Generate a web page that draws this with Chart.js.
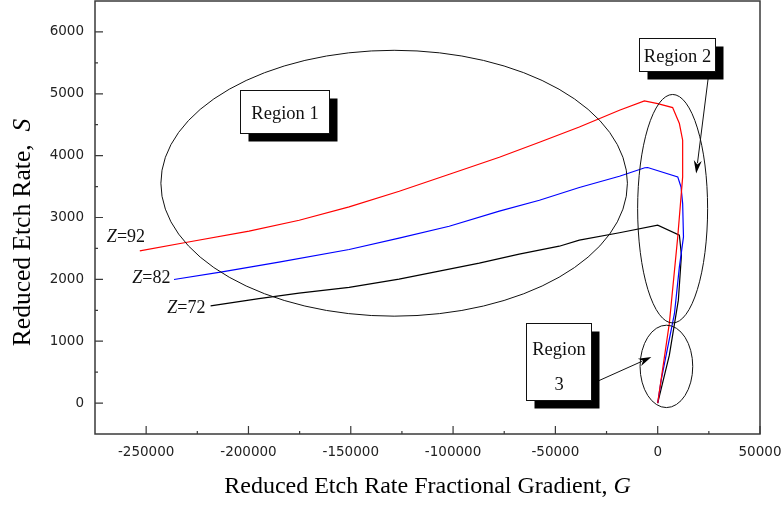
<!DOCTYPE html>
<html>
<head>
<meta charset="utf-8">
<script src="https://cdn.jsdelivr.net/npm/chart.js@4/dist/chart.umd.min.js"></script>
<style>
  html, body { margin: 0; padding: 0; background: #fff; }
  #wrap { width: 783px; height: 506px; position: relative; }
</style>
</head>
<body>
<div id="wrap"><canvas id="c" width="783" height="506"></canvas></div>
<script>
// Tick labels
const xTickValues = [-250000, -200000, -150000, -100000, -50000, 0, 50000];
const yTickValues = [0, 1000, 2000, 3000, 4000, 5000, 6000];

// Z = 92 (red)
const gZ92 = [-253100, -230700, -199700, -175200, -150800, -126300, -101800, -77400, -57800, -38300, -18700, -6500, 0, 7300, 10600, 12200, 12200, 11400, 9800, 5700, 0];
const sZ92 = [2460, 2596, 2779, 2956, 3171, 3425, 3699, 3974, 4216, 4464, 4733, 4884, 4842, 4777, 4519, 4249, 3656, 3333, 2687, 1292, 0];

// Z = 82 (blue)
const gZ82 = [-236400, -212900, -185100, -150800, -126400, -101900, -77400, -57800, -38300, -18700, -6300, -4900, 9800, 11400, 12200, 12600, 10600, 8200, 1700, 0];
const sZ82 = [1998, 2121, 2278, 2483, 2666, 2859, 3102, 3279, 3485, 3667, 3804, 3808, 3656, 3494, 3226, 2687, 2202, 1449, 372, 0];

// Z = 72 (black)
const gZ72 = [-218500, -194900, -175300, -150800, -126400, -106800, -87200, -67700, -48100, -38300, -18700, 0, 10600, 11600, 10100, 5700, 0];
const sZ72 = [1572, 1688, 1777, 1869, 2003, 2132, 2262, 2407, 2536, 2633, 2754, 2876, 2714, 2391, 1664, 775, 0];

const seriesNames = ['Z=92', 'Z=82', 'Z=72'];

// Region outlines (centre and half-axes in G / S units)
const regionEllipses = [
  { g: -128800, s: 3554, rg: 114000, rs: 2149 },
  { g: 7300,    s: 3142, rg: 17100,  rs: 1847 },
  { g: 4260,    s: 593,  rg: 12870,  rs: 666 }
];

// Callout boxes: centre in G / S units, box size in px, text lines with baseline offsets from the box top
const regionBoxes = [
  { g: -182400, s: 4711, w: 89, h: 43, lines: [['Region 1', 28]] },
  { g: 9600,    s: 5638, w: 76, h: 33, lines: [['Region 2', 23]] },
  { g: -48500,  s: 674,  w: 65, h: 77, lines: [['Region', 31], ['3', 66]] }
];

// Arrows from callouts to regions (tail -> head, G / S units)
const regionArrows = [
  { g0: 26000, s0: 5600, g1: 18800, s1: 3711 },
  { g0: -30400, s0: 338, g1: -3100, s1: 743 }
];

// Curve labels: left/baseline anchor in G / S units
const curveLabels = [
  { g: -269200, s: 2606 },
  { g: -256800, s: 1943 },
  { g: -239700, s: 1459 }
];

const FRAME = '#3a3a3a';
const SERIF = '"Liberation Serif", "Times New Roman", serif';

function toPoints(gs, ss) { return gs.map((g, i) => ({ x: g, y: ss[i] })); }

function midpoints(vals) {
  const out = [];
  for (let i = 0; i < vals.length - 1; i++) out.push((vals[i] + vals[i + 1]) / 2);
  return out;
}

// Draw a string made of [text, italic] runs starting at x
function drawRuns(ctx, runs, x, y, size) {
  let cx = x;
  runs.forEach(([t, it]) => {
    ctx.font = (it ? 'italic ' : '') + size + 'px ' + SERIF;
    ctx.fillText(t, cx, y);
    cx += ctx.measureText(t).width;
  });
}
function runsWidth(ctx, runs, size) {
  let w = 0;
  runs.forEach(([t, it]) => {
    ctx.font = (it ? 'italic ' : '') + size + 'px ' + SERIF;
    w += ctx.measureText(t).width;
  });
  return w;
}

const decorations = {
  id: 'decorations',
  afterDatasetsDraw(chart) {
    const { ctx, chartArea: a, scales: { x, y } } = chart;
    ctx.save();

    // frame
    ctx.strokeStyle = FRAME;
    ctx.lineWidth = 1.5;
    ctx.strokeRect(a.left, a.top, a.right - a.left, a.bottom - a.top);

    // inward tick marks on the left and bottom axes
    ctx.beginPath();
    xTickValues.forEach(v => { const p = x.getPixelForValue(v); ctx.moveTo(p, a.bottom); ctx.lineTo(p, a.bottom - 8); });
    midpoints(xTickValues).forEach(v => { const p = x.getPixelForValue(v); ctx.moveTo(p, a.bottom); ctx.lineTo(p, a.bottom - 3); });
    yTickValues.forEach(v => { const p = y.getPixelForValue(v); ctx.moveTo(a.left, p); ctx.lineTo(a.left + 8, p); });
    midpoints(yTickValues).forEach(v => { const p = y.getPixelForValue(v); ctx.moveTo(a.left, p); ctx.lineTo(a.left + 3, p); });
    ctx.lineWidth = 1.2;
    ctx.stroke();

    // region ellipses
    ctx.strokeStyle = '#111';
    ctx.lineWidth = 1;
    regionEllipses.forEach(e => {
      const cx = x.getPixelForValue(e.g), cy = y.getPixelForValue(e.s);
      const rx = Math.abs(x.getPixelForValue(e.g + e.rg) - cx);
      const ry = Math.abs(y.getPixelForValue(e.s + e.rs) - cy);
      ctx.beginPath();
      ctx.ellipse(cx, cy, rx, ry, 0, 0, Math.PI * 2);
      ctx.stroke();
    });

    // arrows
    regionArrows.forEach(r => {
      const x0 = x.getPixelForValue(r.g0), y0 = y.getPixelForValue(r.s0);
      const x1 = x.getPixelForValue(r.g1), y1 = y.getPixelForValue(r.s1);
      const ang = Math.atan2(y1 - y0, x1 - x0);
      const L = 13, W = 4;
      ctx.beginPath();
      ctx.moveTo(x0, y0);
      ctx.lineTo(x1 - Math.cos(ang) * L * 0.8, y1 - Math.sin(ang) * L * 0.8);
      ctx.strokeStyle = '#111';
      ctx.lineWidth = 1;
      ctx.stroke();
      ctx.beginPath();
      ctx.moveTo(x1, y1);
      ctx.lineTo(x1 - Math.cos(ang) * L - Math.sin(ang) * W, y1 - Math.sin(ang) * L + Math.cos(ang) * W);
      ctx.lineTo(x1 - Math.cos(ang) * L * 0.7, y1 - Math.sin(ang) * L * 0.7);
      ctx.lineTo(x1 - Math.cos(ang) * L + Math.sin(ang) * W, y1 - Math.sin(ang) * L - Math.cos(ang) * W);
      ctx.closePath();
      ctx.fillStyle = '#000';
      ctx.fill();
    });

    // callout boxes with drop shadow
    regionBoxes.forEach(b => {
      const cx = x.getPixelForValue(b.g), cy = y.getPixelForValue(b.s);
      const left = Math.round(cx - b.w / 2) + 0.5, top = Math.round(cy - b.h / 2) + 0.5;
      ctx.fillStyle = '#000';
      ctx.fillRect(left + 8, top + 8, b.w, b.h);
      ctx.fillStyle = '#fff';
      ctx.fillRect(left, top, b.w, b.h);
      ctx.strokeStyle = '#111';
      ctx.lineWidth = 1;
      ctx.strokeRect(left, top, b.w, b.h);
      ctx.fillStyle = '#111';
      ctx.font = '18.5px ' + SERIF;
      ctx.textAlign = 'center';
      ctx.textBaseline = 'alphabetic';
      b.lines.forEach(([t, off]) => ctx.fillText(t, left + b.w / 2, top + off));
    });

    // curve labels
    ctx.textAlign = 'left';
    ctx.textBaseline = 'alphabetic';
    ctx.fillStyle = '#111';
    curveLabels.forEach((l, i) => {
      const name = seriesNames[i];
      drawRuns(ctx, [[name.charAt(0), true], [name.slice(1), false]], x.getPixelForValue(l.g), y.getPixelForValue(l.s), 18);
    });

    // axis titles
    ctx.fillStyle = '#000';
    const xRuns = [['Reduced Etch Rate Fractional Gradient, ', false], ['G', true]];
    const xw = runsWidth(ctx, xRuns, 24);
    drawRuns(ctx, xRuns, (a.left + a.right) / 2 - xw / 2, a.bottom + 58.5, 24);

    const yRuns = [['Reduced Etch Rate,  ', false], ['S', true]];
    const yw = runsWidth(ctx, yRuns, 25.5);
    ctx.save();
    ctx.translate(30, (a.top + a.bottom) / 2 + 15);
    ctx.rotate(-Math.PI / 2);
    drawRuns(ctx, yRuns, -yw / 2, 0, 25.5);
    ctx.restore();

    ctx.restore();
  }
};

const tickFont = { family: '"DejaVu Sans", sans-serif', size: 13.5 };

new Chart(document.getElementById('c'), {
  type: 'scatter',
  data: {
    datasets: [
      { label: seriesNames[0], data: toPoints(gZ92, sZ92), borderColor: '#ff0000' },
      { label: seriesNames[1], data: toPoints(gZ82, sZ82), borderColor: '#0000ff' },
      { label: seriesNames[2], data: toPoints(gZ72, sZ72), borderColor: '#000000' }
    ].map(d => Object.assign(d, { showLine: true, pointRadius: 0, borderWidth: 1.2, tension: 0, fill: false }))
  },
  options: {
    responsive: false,
    animation: false,
    devicePixelRatio: 1,
    layout: { padding: { top: 1, right: 23, bottom: 0, left: 0 } },
    plugins: { legend: { display: false }, tooltip: { enabled: false } },
    scales: {
      x: {
        type: 'linear', min: -275000, max: 50000,
        afterBuildTicks: s => { s.ticks = xTickValues.map(v => ({ value: v })); },
        afterFit: s => { s.height = 72; s.paddingLeft = 0; s.paddingRight = 0; },
        grid: { display: false, drawTicks: false },
        border: { display: false },
        ticks: { font: tickFont, color: '#222', padding: 10, maxRotation: 0, autoSkip: false, callback: v => String(v) }
      },
      y: {
        type: 'linear', min: -500, max: 6500,
        afterBuildTicks: s => { s.ticks = yTickValues.map(v => ({ value: v })); },
        afterFit: s => { s.width = 95; s.paddingTop = 0; s.paddingBottom = 0; },
        grid: { display: false, drawTicks: false },
        border: { display: false },
        ticks: { font: tickFont, color: '#222', padding: 11, autoSkip: false, callback: v => String(v) }
      }
    }
  },
  plugins: [decorations]
});
</script>
</body>
</html>
